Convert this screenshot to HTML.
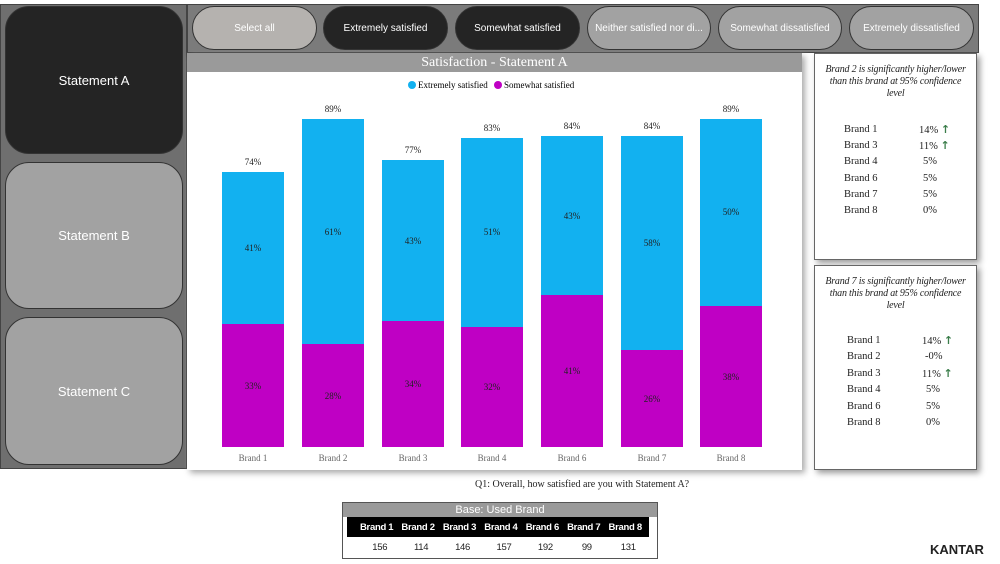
<!DOCTYPE html>
<html><head><style>
body{margin:0;width:1000px;height:564px;background:#fff;position:relative;overflow:hidden;font-family:"Liberation Sans",sans-serif}
.a{position:absolute}
.btn{position:absolute;border-radius:22px;border:1px solid #333;color:#fff;font-size:10px;display:flex;align-items:center;justify-content:center;box-sizing:border-box}
.sb{position:absolute;left:5px;width:178px;border-radius:24px;border:1px solid #333;color:#fff;font-size:13px;display:flex;align-items:center;justify-content:center;box-sizing:border-box}
.serif{font-family:"Liberation Serif",serif}
.panel{position:absolute;left:814px;width:163px;background:#fff;border:1px solid #666;box-sizing:border-box;box-shadow:3px 3px 6px #999}
.panel .t{font-style:italic;font-size:10px;text-align:center;color:#222;margin:10px 0 0;line-height:12px;letter-spacing:-0.2px}
.row{position:absolute;font-size:10.5px;color:#222;line-height:12px;white-space:nowrap}
.up{color:#3a7d4a;font-weight:bold;font-size:11px;font-family:"DejaVu Sans",sans-serif}
table{border-collapse:collapse}
</style></head><body>
<div class="a" style="left:0;top:4px;width:187px;height:465px;background:#6f6f6f;border:1px solid #444;box-sizing:border-box"></div>
<div class="sb" style="top:6px;height:148px;background:#242424">Statement A</div>
<div class="sb" style="top:162px;height:147px;background:#a2a2a2">Statement B</div>
<div class="sb" style="top:317px;height:148px;background:#a2a2a2">Statement C</div>
<div class="a" style="left:187px;top:4px;width:792px;height:49px;background:#7b7b7b;border:1px solid #444;box-sizing:border-box"></div>
<div class="btn" style="left:192px;top:6px;width:125px;height:44px;background:#b5b2af">Select all</div>
<div class="btn" style="left:323px;top:6px;width:125px;height:44px;background:#242424">Extremely satisfied</div>
<div class="btn" style="left:455px;top:6px;width:125px;height:44px;background:#242424">Somewhat satisfied</div>
<div class="btn" style="left:587px;top:6px;width:124px;height:44px;background:#a2a2a2">Neither satisfied nor di...</div>
<div class="btn" style="left:718px;top:6px;width:124px;height:44px;background:#a2a2a2">Somewhat dissatisfied</div>
<div class="btn" style="left:849px;top:6px;width:125px;height:44px;background:#a2a2a2">Extremely dissatisfied</div>

<div class="a" style="left:187px;top:53px;width:615px;height:417px;background:#fff;box-shadow:3px 3px 6px #aaa"></div>
<div class="a serif" style="left:187px;top:53px;width:615px;height:19px;background:#9a9a9a;color:#fff;font-size:14px;text-align:center;line-height:19px">Satisfaction - Statement A</div>
<svg class="a" style="left:0;top:0" width="1000" height="564" font-family="Liberation Serif, serif">
<circle cx="412" cy="85" r="4" fill="#12b1f0"/><text x="418" y="88" font-size="9">Extremely satisfied</text>
<circle cx="498" cy="85" r="4" fill="#bf00c4"/><text x="504" y="88" font-size="9">Somewhat satisfied</text>
<g font-size="9" text-anchor="middle" fill="#222">
<rect x="222" y="172" width="62" height="152" fill="#12b1f0"/><rect x="222" y="324" width="62" height="123" fill="#bf00c4"/>
<text x="253" y="165">74%</text><text x="253" y="251">41%</text><text x="253" y="389">33%</text><text x="253" y="461" fill="#666">Brand 1</text>
<rect x="302" y="119" width="62" height="225" fill="#12b1f0"/><rect x="302" y="344" width="62" height="103" fill="#bf00c4"/>
<text x="333" y="112">89%</text><text x="333" y="235">61%</text><text x="333" y="399">28%</text><text x="333" y="461" fill="#666">Brand 2</text>
<rect x="382" y="160" width="62" height="161" fill="#12b1f0"/><rect x="382" y="321" width="62" height="126" fill="#bf00c4"/>
<text x="413" y="153">77%</text><text x="413" y="244">43%</text><text x="413" y="387">34%</text><text x="413" y="461" fill="#666">Brand 3</text>
<rect x="461" y="138" width="62" height="189" fill="#12b1f0"/><rect x="461" y="327" width="62" height="120" fill="#bf00c4"/>
<text x="492" y="131">83%</text><text x="492" y="235">51%</text><text x="492" y="390">32%</text><text x="492" y="461" fill="#666">Brand 4</text>
<rect x="541" y="136" width="62" height="159" fill="#12b1f0"/><rect x="541" y="295" width="62" height="152" fill="#bf00c4"/>
<text x="572" y="129">84%</text><text x="572" y="219">43%</text><text x="572" y="374">41%</text><text x="572" y="461" fill="#666">Brand 6</text>
<rect x="621" y="136" width="62" height="214" fill="#12b1f0"/><rect x="621" y="350" width="62" height="97" fill="#bf00c4"/>
<text x="652" y="129">84%</text><text x="652" y="246">58%</text><text x="652" y="402">26%</text><text x="652" y="461" fill="#666">Brand 7</text>
<rect x="700" y="119" width="62" height="187" fill="#12b1f0"/><rect x="700" y="306" width="62" height="141" fill="#bf00c4"/>
<text x="731" y="112">89%</text><text x="731" y="215">50%</text><text x="731" y="380">38%</text><text x="731" y="461" fill="#666">Brand 8</text>
</g></svg>

<div class="panel serif" style="top:53px;height:207px"><div class="t">Brand 2 is significantly higher/lower<br>than this brand at 95% confidence<br>level</div>
<div class="row" style="left:29px;top:70px">Brand 1</div><div class="row" style="left:104px;top:70px">14% <span class="up">↑</span></div>
<div class="row" style="left:29px;top:86px">Brand 3</div><div class="row" style="left:104px;top:86px">11% <span class="up">↑</span></div>
<div class="row" style="left:29px;top:102px">Brand 4</div><div class="row" style="left:108px;top:102px">5%</div>
<div class="row" style="left:29px;top:119px">Brand 6</div><div class="row" style="left:108px;top:119px">5%</div>
<div class="row" style="left:29px;top:135px">Brand 7</div><div class="row" style="left:108px;top:135px">5%</div>
<div class="row" style="left:29px;top:151px">Brand 8</div><div class="row" style="left:108px;top:151px">0%</div>
</div>
<div class="panel serif" style="top:265px;height:205px"><div class="t">Brand 7 is significantly higher/lower<br>than this brand at 95% confidence<br>level</div>
<div class="row" style="left:32px;top:69px">Brand 1</div><div class="row" style="left:107px;top:69px">14% <span class="up">↑</span></div>
<div class="row" style="left:32px;top:85px">Brand 2</div><div class="row" style="left:110px;top:85px">-0%</div>
<div class="row" style="left:32px;top:102px">Brand 3</div><div class="row" style="left:107px;top:102px">11% <span class="up">↑</span></div>
<div class="row" style="left:32px;top:118px">Brand 4</div><div class="row" style="left:111px;top:118px">5%</div>
<div class="row" style="left:32px;top:135px">Brand 6</div><div class="row" style="left:111px;top:135px">5%</div>
<div class="row" style="left:32px;top:151px">Brand 8</div><div class="row" style="left:111px;top:151px">0%</div>
</div>

<div class="a serif" style="left:475px;top:479px;font-size:10px;color:#222">Q1: Overall, how satisfied are you with Statement A?</div>
<div class="a" style="left:342px;top:502px;width:316px;height:57px;border:1px solid #555;box-sizing:border-box;background:#fff">
<div style="background:#9a9a9a;color:#fff;font-size:11px;text-align:center;height:14px;line-height:14px">Base: Used Brand</div>
<table style="position:absolute;left:4px;top:14px;width:302px;font-size:9.5px;letter-spacing:-0.3px">
<tr style="background:#000;color:#fff;font-weight:bold;height:20px"><td style="width:10px"></td><td>Brand 1</td><td>Brand 2</td><td>Brand 3</td><td>Brand 4</td><td>Brand 6</td><td>Brand 7</td><td>Brand 8</td></tr>
<tr style="color:#222;height:20px;text-align:center"><td></td><td>156</td><td>114</td><td>146</td><td>157</td><td>192</td><td>99</td><td>131</td></tr>
</table>
</div>
<div class="a" style="left:930px;top:542px;font-size:13px;font-weight:bold;color:#222">KANTAR</div>
</body></html>
